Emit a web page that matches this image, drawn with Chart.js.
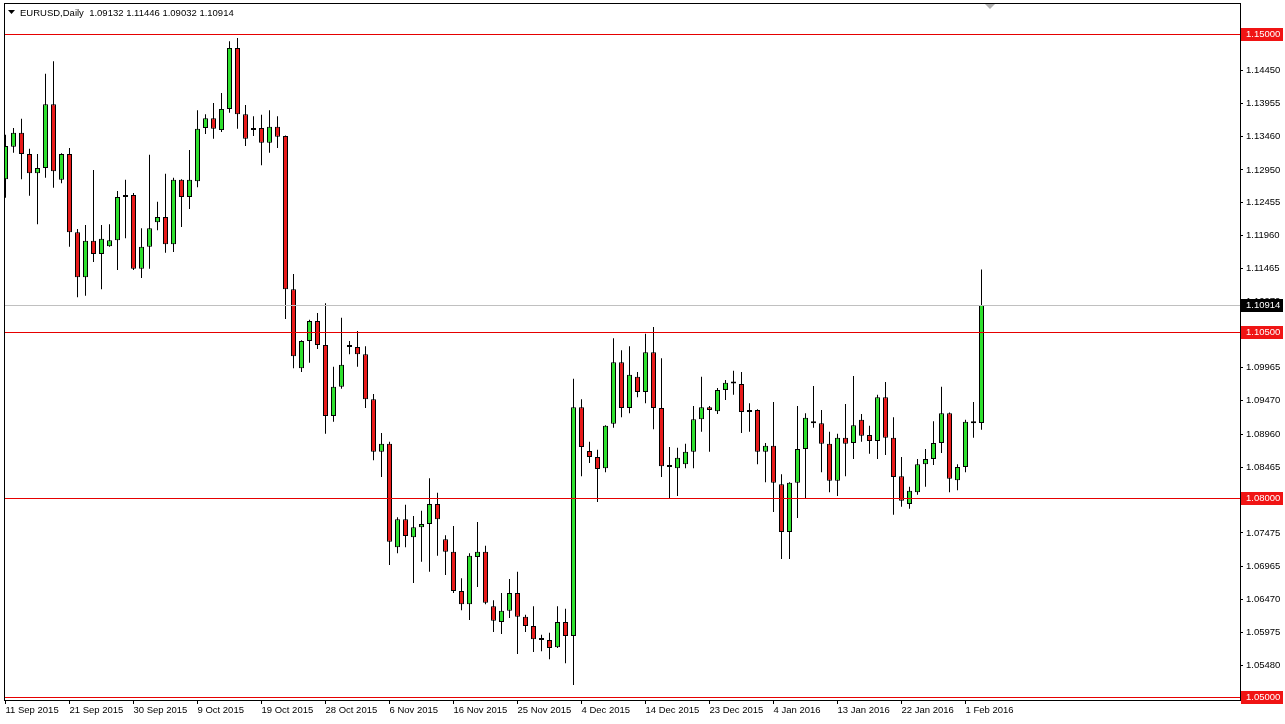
<!DOCTYPE html>
<html><head><meta charset="utf-8">
<script src="https://cdn.jsdelivr.net/npm/chart.js@4/dist/chart.umd.min.js"></script>
<style>html,body{margin:0;padding:0;background:#fff;overflow:hidden}canvas{display:block}</style>
</head><body>
<canvas id="c" width="1285" height="724"></canvas>
<script>
const symbolTitle = "EURUSD,Daily";

const dates = [
"11 Sep 2015","13 Sep 2015","14 Sep 2015","15 Sep 2015","16 Sep 2015","17 Sep 2015","18 Sep 2015","20 Sep 2015",
"21 Sep 2015","22 Sep 2015","23 Sep 2015","24 Sep 2015","25 Sep 2015","27 Sep 2015","28 Sep 2015","29 Sep 2015",
"30 Sep 2015","1 Oct 2015","2 Oct 2015","4 Oct 2015","5 Oct 2015","6 Oct 2015","7 Oct 2015","8 Oct 2015",
"9 Oct 2015","11 Oct 2015","12 Oct 2015","13 Oct 2015","14 Oct 2015","15 Oct 2015","16 Oct 2015","18 Oct 2015",
"19 Oct 2015","20 Oct 2015","21 Oct 2015","22 Oct 2015","23 Oct 2015","25 Oct 2015","26 Oct 2015","27 Oct 2015",
"28 Oct 2015","29 Oct 2015","30 Oct 2015","1 Nov 2015","2 Nov 2015","3 Nov 2015","4 Nov 2015","5 Nov 2015",
"6 Nov 2015","8 Nov 2015","9 Nov 2015","10 Nov 2015","11 Nov 2015","12 Nov 2015","13 Nov 2015","15 Nov 2015",
"16 Nov 2015","17 Nov 2015","18 Nov 2015","19 Nov 2015","20 Nov 2015","22 Nov 2015","23 Nov 2015","24 Nov 2015",
"25 Nov 2015","26 Nov 2015","27 Nov 2015","29 Nov 2015","30 Nov 2015","1 Dec 2015","2 Dec 2015","3 Dec 2015",
"4 Dec 2015","6 Dec 2015","7 Dec 2015","8 Dec 2015","9 Dec 2015","10 Dec 2015","11 Dec 2015","13 Dec 2015",
"14 Dec 2015","15 Dec 2015","16 Dec 2015","17 Dec 2015","18 Dec 2015","20 Dec 2015","21 Dec 2015","22 Dec 2015",
"23 Dec 2015","24 Dec 2015","27 Dec 2015","28 Dec 2015","29 Dec 2015","30 Dec 2015","31 Dec 2015","3 Jan 2016",
"4 Jan 2016","5 Jan 2016","6 Jan 2016","7 Jan 2016","8 Jan 2016","10 Jan 2016","11 Jan 2016","12 Jan 2016",
"13 Jan 2016","14 Jan 2016","15 Jan 2016","17 Jan 2016","18 Jan 2016","19 Jan 2016","20 Jan 2016","21 Jan 2016",
"22 Jan 2016","24 Jan 2016","25 Jan 2016","26 Jan 2016","27 Jan 2016","28 Jan 2016","29 Jan 2016","31 Jan 2016",
"1 Feb 2016","2 Feb 2016","3 Feb 2016"
];

const open = [
1.1281,1.1330,1.1351,1.1319,1.1290,1.1298,1.1394,1.1280,1.1319,1.1201,
1.1133,1.1188,1.1168,1.1180,1.1189,1.1254,1.1257,1.1146,1.1179,1.1216,
1.1224,1.1183,1.1280,1.1254,1.1278,1.1358,1.1373,1.1355,1.1387,1.1479,
1.1379,1.1355,1.1358,1.1336,1.1360,1.1346,1.1115,1.0996,1.1037,1.1067,
1.1031,1.0924,1.0968,1.1031,1.1028,1.1017,1.0949,1.0870,1.0882,1.0726,
1.0768,1.0741,1.0756,1.0761,1.0791,1.0738,1.0719,1.0660,1.0640,1.0711,
1.0719,1.0637,1.0613,1.0630,1.0657,1.0621,1.0607,1.0586,1.0586,1.0575,
1.0613,1.0592,1.0937,1.0871,1.0862,1.0845,1.0912,1.1005,1.0936,1.0983,
1.0960,1.1020,1.0936,1.0850,1.0845,1.0851,1.0870,1.0919,1.0937,1.0931,
1.0963,1.0974,1.0972,1.0930,1.0933,1.0870,1.0879,1.0821,1.0749,1.0823,
1.0874,1.0916,1.0913,1.0882,1.0826,1.0891,1.0883,1.0918,1.0895,1.0886,
1.0952,1.0891,1.0833,1.0791,1.0809,1.0851,1.0859,1.0883,1.0928,1.0827,
1.0847,1.0915,1.09132
];
const high = [
1.1348,1.1358,1.1372,1.1327,1.1319,1.1440,1.1459,1.1320,1.1328,1.1206,
1.1212,1.1295,1.1212,1.1213,1.1263,1.1280,1.1260,1.1207,1.1318,1.1247,
1.1289,1.1283,1.1281,1.1325,1.1385,1.1379,1.1396,1.1411,1.1489,1.1494,
1.1393,1.1376,1.1378,1.1385,1.1376,1.1347,1.1138,1.1038,1.1069,1.1079,
1.1094,1.0998,1.1072,1.1037,1.1052,1.1029,1.0957,1.0898,1.0885,1.0771,
1.0790,1.0773,1.0781,1.0830,1.0808,1.0744,1.0758,1.0679,1.0717,1.0764,
1.0728,1.0646,1.0657,1.0678,1.0689,1.0624,1.0637,1.0594,1.0597,1.0637,
1.0633,1.0980,1.0949,1.0885,1.0873,1.0910,1.1041,1.1023,1.1029,1.0990,
1.1048,1.1058,1.1011,1.0877,1.0876,1.0882,1.0939,1.0983,1.0939,1.0966,
1.0978,1.0992,1.0990,1.0943,1.0934,1.0883,1.0945,1.0836,1.0824,1.0939,
1.0928,1.0969,1.0933,1.0900,1.0897,1.0942,1.0984,1.0927,1.0909,1.0956,
1.0975,1.0922,1.0862,1.0817,1.0859,1.0874,1.0916,1.0968,1.0929,1.0851,
1.0918,1.0945,1.11446
];
const low = [
1.1253,1.1321,1.1281,1.1256,1.1213,1.1283,1.1268,1.1275,1.1179,1.1103,
1.1105,1.1156,1.1115,1.1179,1.1144,1.1192,1.1144,1.1132,1.1146,1.1204,
1.1170,1.1171,1.1209,1.1236,1.1269,1.1349,1.1342,1.1352,1.1381,1.1357,
1.1331,1.1346,1.1302,1.1321,1.1328,1.1070,1.0996,1.0990,1.1004,1.1025,
1.0897,1.0915,1.0965,1.1017,1.0998,1.0936,1.0857,1.0832,1.0699,1.0717,
1.0726,1.0672,1.0704,1.0689,1.0713,1.0684,1.0657,1.0631,1.0616,1.0666,
1.0640,1.0598,1.0595,1.0619,1.0565,1.0598,1.0568,1.0569,1.0557,1.0574,
1.0551,1.0518,1.0833,1.0853,1.0794,1.0839,1.0906,1.0922,1.0928,1.0952,
1.0943,1.0904,1.0832,1.0800,1.0803,1.0845,1.0845,1.0900,1.0870,1.0927,
1.0948,1.0956,1.0898,1.0900,1.0851,1.0824,1.0779,1.0708,1.0708,1.0770,
1.0800,1.0906,1.0839,1.0809,1.0803,1.0833,1.0859,1.0885,1.0867,1.0859,
1.0865,1.0775,1.0787,1.0784,1.0805,1.0817,1.0850,1.0868,1.0809,1.0812,
1.0839,1.0891,1.09032
];
const close = [
1.1331,1.1351,1.1319,1.1290,1.1298,1.1394,1.1293,1.1319,1.1201,1.1133,
1.1188,1.1168,1.1191,1.1189,1.1254,1.1257,1.1146,1.1179,1.1207,1.1224,
1.1183,1.1280,1.1254,1.1280,1.1357,1.1373,1.1357,1.1387,1.1479,1.1379,
1.1342,1.1358,1.1336,1.1360,1.1345,1.1115,1.1014,1.1037,1.1067,1.1031,
1.0924,1.0968,1.1001,1.1028,1.1017,1.0949,1.0870,1.0882,1.0734,1.0768,
1.0743,1.0756,1.0761,1.0791,1.0768,1.0719,1.0660,1.0640,1.0713,1.0719,
1.0642,1.0615,1.0630,1.0657,1.0621,1.0607,1.0587,1.0587,1.0574,1.0613,
1.0592,1.0937,1.0877,1.0862,1.0844,1.0909,1.1005,1.0936,1.0986,1.0960,
1.1020,1.0936,1.0848,1.0847,1.0861,1.0870,1.0919,1.0937,1.0933,1.0963,
1.0974,1.0973,1.0930,1.0933,1.0870,1.0879,1.0823,1.0749,1.0823,1.0874,
1.0921,1.0913,1.0882,1.0826,1.0891,1.0882,1.0910,1.0894,1.0886,1.0952,
1.0891,1.0832,1.0796,1.0811,1.0851,1.0859,1.0883,1.0928,1.0829,1.0847,
1.0915,1.0913,1.10914
];

const xTickLabels = ["11 Sep 2015","21 Sep 2015","30 Sep 2015","9 Oct 2015","19 Oct 2015","28 Oct 2015",
  "6 Nov 2015","16 Nov 2015","25 Nov 2015","4 Dec 2015","14 Dec 2015","23 Dec 2015","4 Jan 2016",
  "13 Jan 2016","22 Jan 2016","1 Feb 2016"];
const yTicks = [1.14945,1.14450,1.13955,1.13460,1.12950,1.12455,1.11960,1.11465,1.10970,1.10460,
  1.09965,1.09470,1.08960,1.08465,1.07970,1.07475,1.06965,1.06470,1.05975,1.05480];
const levelLines = [1.15000, 1.10500, 1.08000, 1.05000];
const bidPrice = 1.10914;

const Y_MIN = 1.04955, Y_MAX = 1.15452;
const X_MIN = -0.1875, X_MAX = 154.3125;

const BULL = '#2ee02e', BEAR = '#e81a1a', LEVEL_RED = '#e60000', BID_GREY = '#c0c0c0';

// font detection
function fontAvailable(name){
  const c = document.createElement('canvas').getContext('2d');
  const s = '1.14450 11 Sep 2015';
  c.font = '11px monospace'; const a = c.measureText(s).width;
  c.font = '11px "' + name + '", monospace'; const b = c.measureText(s).width;
  return Math.abs(a-b) > 0.5;
}
let FONT = '"Liberation Sans Narrow", sans-serif', FSIZE = 11;
if (!fontAvailable('Liberation Sans Narrow')) { FONT = '"Liberation Sans", Arial, sans-serif'; FSIZE = 9.5; }
const fontStr = FSIZE + 'px ' + FONT;

const bodies = dates.map((d,i)=>({x:i, y:[open[i], close[i]]}));
const wicks = dates.map((d,i)=>({x:i, y:[low[i], high[i]]}));
const bodyColors = dates.map((d,i)=> close[i] >= open[i] ? BULL : BEAR);

const decor = {
  id:'decor',
  beforeDraw(chart){
    const {ctx,width,height} = chart;
    ctx.save(); ctx.fillStyle='#fff'; ctx.fillRect(0,0,width,height); ctx.restore();
  },
  afterDatasetsDraw(chart){
    const {ctx, chartArea:a, scales:{y}} = chart;
    ctx.save();
    ctx.lineWidth = 1;
    ctx.strokeStyle = BID_GREY;
    let py = Math.round(y.getPixelForValue(bidPrice)) + 0.5;
    ctx.beginPath(); ctx.moveTo(a.left, py); ctx.lineTo(a.right, py); ctx.stroke();
    ctx.strokeStyle = LEVEL_RED;
    levelLines.forEach(v=>{
      const p = Math.round(y.getPixelForValue(v)) + 0.5;
      ctx.beginPath(); ctx.moveTo(a.left, p); ctx.lineTo(a.right, p); ctx.stroke();
    });
    ctx.restore();
  },
  afterDraw(chart){
    const {ctx, chartArea:a, scales:{x,y}} = chart;
    ctx.save();
    // frame
    ctx.strokeStyle = '#000'; ctx.lineWidth = 1;
    ctx.strokeRect(a.left+0.5, a.top-0.5, a.right-a.left, a.bottom-a.top+1);
    // price boxes
    ctx.font = fontStr; ctx.textBaseline = 'middle'; ctx.textAlign = 'left';
    const box = (v, color) => {
      const p = Math.round(y.getPixelForValue(v));
      ctx.fillStyle = color; ctx.fillRect(a.right+1, p-6, 42, 13);
      ctx.fillStyle = '#fff'; ctx.fillText(v.toFixed(5), a.right+6, p+0.5);
    };
    levelLines.forEach(v=>box(v, '#f01414'));
    box(bidPrice, '#000');
    // title
    ctx.fillStyle = '#000';
    ctx.beginPath(); ctx.moveTo(8, 10); ctx.lineTo(15, 10); ctx.lineTo(11.5, 14); ctx.closePath(); ctx.fill();
    const n = dates.length-1;
    const title = symbolTitle + '  ' + [open[n],high[n],low[n],close[n]].map(v=>v.toFixed(5)).join(' ');
    ctx.fillText(title, 20, 13);
    // chart shift marker
    const sx = Math.round(x.getPixelForValue(123.1));
    ctx.fillStyle = '#b0b0b0';
    ctx.beginPath(); ctx.moveTo(sx-5, a.top); ctx.lineTo(sx+5, a.top); ctx.lineTo(sx, a.top+5); ctx.closePath(); ctx.fill();
    ctx.restore();
  }
};

new Chart(document.getElementById('c'), {
  type:'bar',
  data:{
    datasets:[
      { label:'body', data:bodies, backgroundColor:bodyColors, borderColor:'#000', borderWidth:1,
        borderSkipped:false, barThickness:5, minBarLength:2, grouped:false, order:0, inflateAmount:0 },
      { label:'wick', data:wicks, backgroundColor:'#000', borderWidth:0,
        barThickness:1, grouped:false, order:1, inflateAmount:0 }
    ]
  },
  options:{
    animation:false, responsive:false, devicePixelRatio:1, events:[],
    layout:{padding:{left:4, top:4, right:0, bottom:0}},
    plugins:{legend:{display:false}, tooltip:{enabled:false}},
    scales:{
      x:{ type:'linear', min:X_MIN, max:X_MAX, offset:false, bounds:'data',
        afterBuildTicks(s){ s.ticks = xTickLabels.map(l=>({value: dates.indexOf(l)})); },
        afterFit(s){ s.height = 24; s.paddingLeft = 0; s.paddingRight = 0; },
        grid:{display:true, drawOnChartArea:false, drawTicks:true, tickLength:4, color:'#000', offset:false},
        border:{display:false},
        ticks:{autoSkip:false, maxRotation:0, minRotation:0, align:'start', padding:1, color:'#000',
          font:{family:FONT, size:FSIZE}, callback:(v)=> dates[v] ?? ''}
      },
      y:{ type:'linear', position:'right', min:Y_MIN, max:Y_MAX, beginAtZero:false, bounds:'data',
        afterBuildTicks(s){ s.ticks = yTicks.map(v=>({value:v})); },
        afterFit(s){ s.width = 45; s.paddingTop = 0; s.paddingBottom = 0; },
        grid:{display:true, drawOnChartArea:false, drawTicks:true, tickLength:3, color:'#000'},
        border:{display:false},
        ticks:{autoSkip:false, padding:3, color:'#000', font:{family:FONT, size:FSIZE},
          callback:(v)=> Number(v).toFixed(5)}
      }
    }
  },
  plugins:[decor]
});
</script>
</body></html>
